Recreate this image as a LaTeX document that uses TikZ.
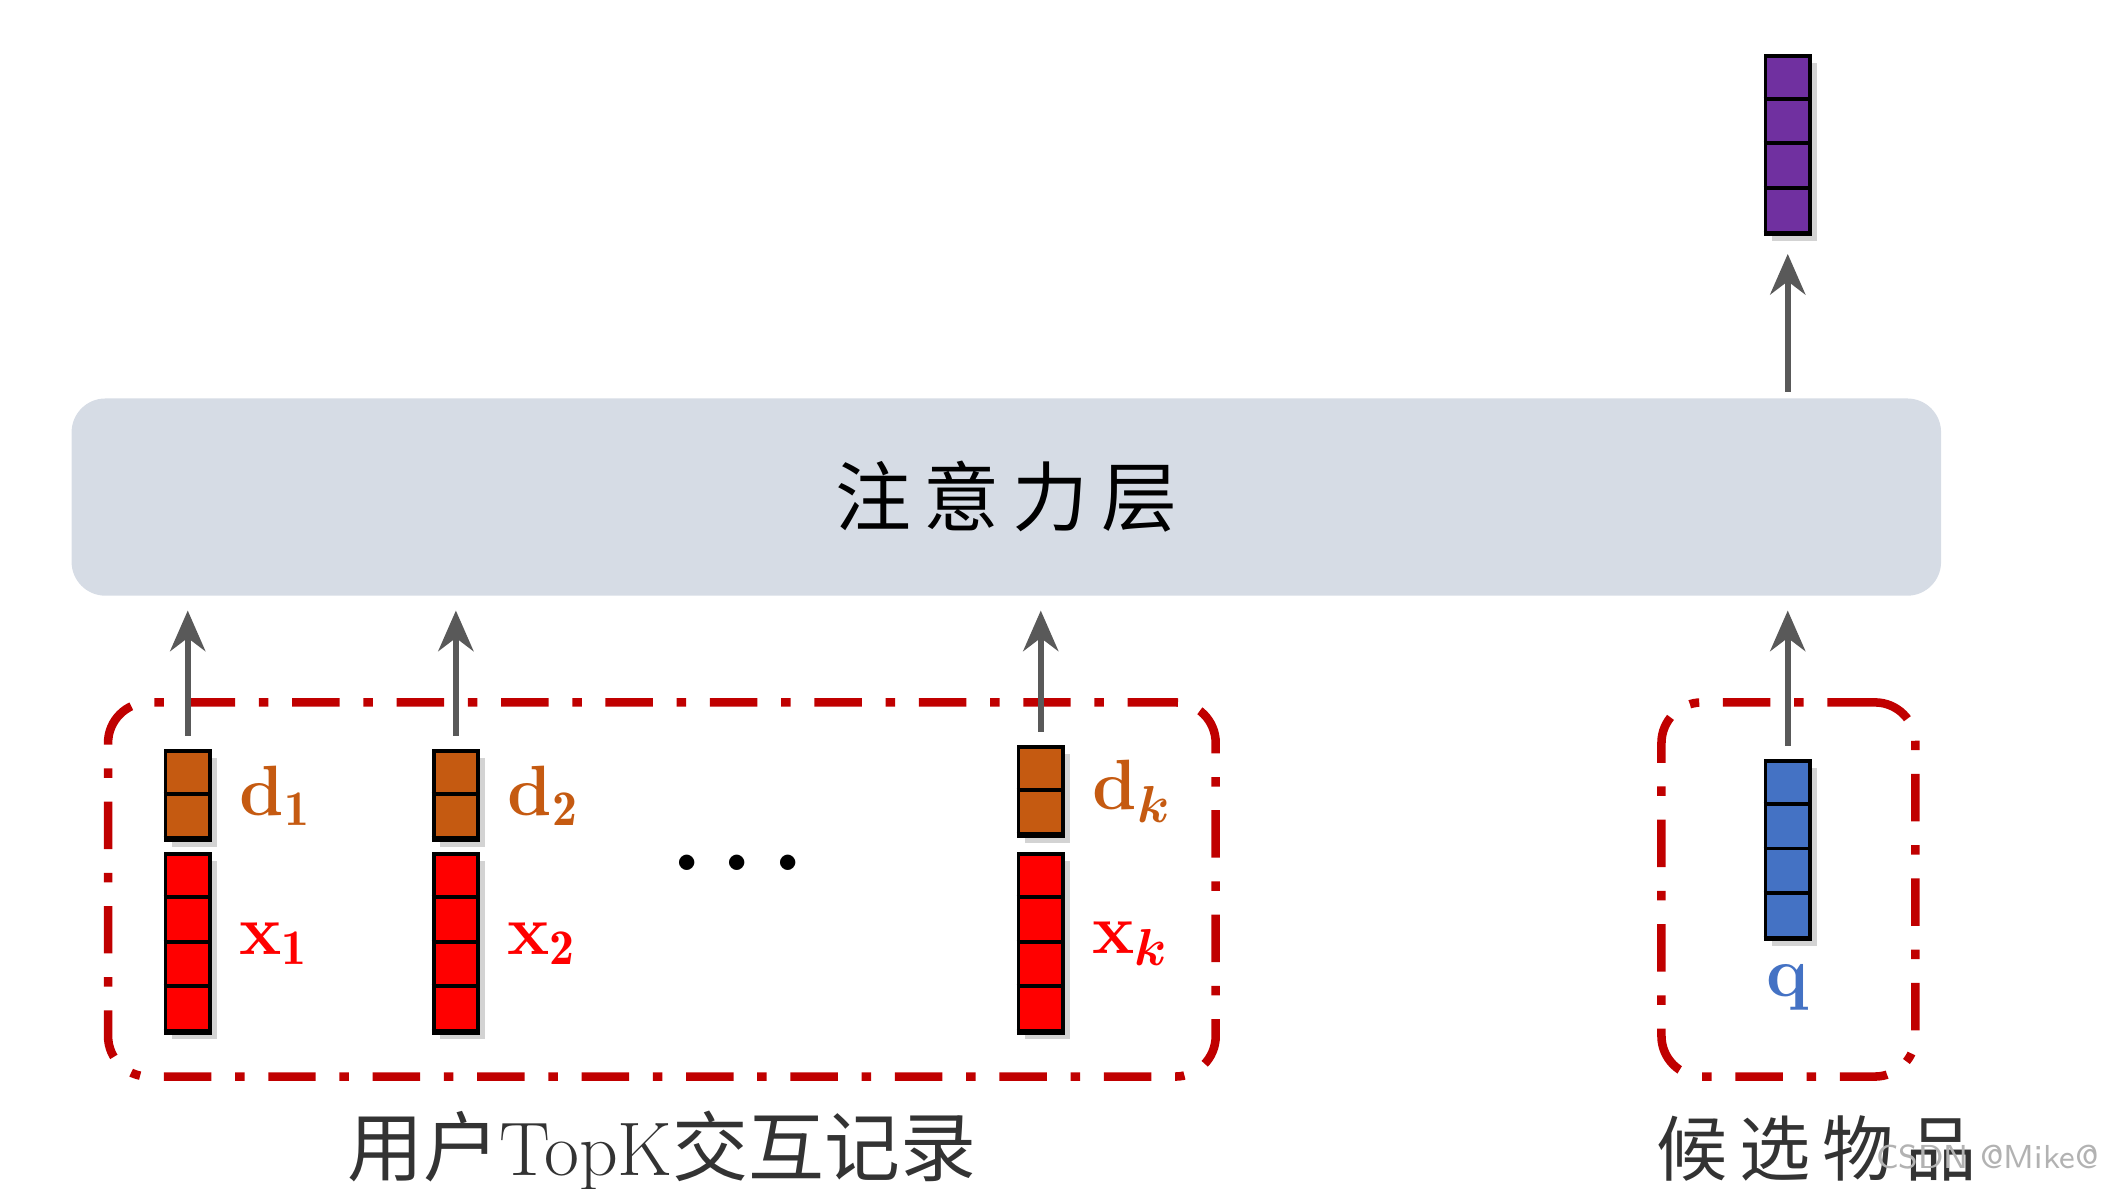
\documentclass[tikz,border=0pt]{standalone}
\usepackage{amsmath,amssymb}
\usepackage{fontspec}
\newfontfamily\cjk{Noto Sans CJK SC}
\usetikzlibrary{positioning,calc,arrows.meta,shadows}
\definecolor{attfill}{HTML}{D6DCE5}
\definecolor{dred}{HTML}{C00000}
\definecolor{dorange}{HTML}{C55A11}
\definecolor{vred}{HTML}{FF0000}
\definecolor{vblue}{HTML}{4472C4}
\definecolor{vpurple}{HTML}{7030A0}
\definecolor{arrgray}{HTML}{595959}
% one embedding vector: name, centre, cells, colour
\newcommand{\embvec}[4]{%
  \node[vecbar,fill=#4,minimum height=#3*0.33cm] (#1) at (#2) {};
  \foreach \c in {1,...,#3}
    \draw[thick] ($(#1.north west)+(0,-0.33*\c)$) -- ($(#1.north east)+(0,-0.33*\c)$);
}
\begin{document}
\begin{tikzpicture}
	[vecbar/.style={draw=black,thick,minimum width=0.33cm,inner sep=0pt,drop shadow={shadow xshift=0.05,shadow yshift=-0.05,opacity=0.35}},
	uparr/.style={-{Stealth[length=0.3cm,width=0.26cm]},line width=1.3pt,draw=arrgray},
	groupbox/.style={draw=dred,line width=1.8pt,dash pattern=on 10pt off 5pt on 2pt off 5pt,rounded corners=0.3cm},
	lbl/.style={font=\bfseries\fontsize{15}{15}\selectfont}]
	\useasboundingbox (0,0) rectangle (15.68,8.8);
	%ATTENTION LAYER
	\node[fill=attfill,rounded corners=0.25cm,minimum width=13.84cm,minimum height=1.46cm] (att) at (7.45,5.12) {\cjk\fontsize{16}{16}\selectfont 注\,意\,力\,层};
	%GROUP BOXES
	\node[groupbox,minimum width=8.2cm,minimum height=2.77cm] (hist) at (4.9,2.215) {};
	\node[groupbox,minimum width=1.88cm,minimum height=2.77cm] (cand) at (13.24,2.215) {};
	%VECTORS
	\embvec{d1}{1.39,2.91}{2}{dorange}
	\embvec{d2}{3.375,2.91}{2}{dorange}
	\embvec{dk}{7.705,2.94}{2}{dorange}
	\embvec{x1}{1.39,1.815}{4}{vred}
	\embvec{x2}{3.375,1.815}{4}{vred}
	\embvec{xk}{7.705,1.815}{4}{vred}
	\embvec{q}{13.235,2.505}{4}{vblue}
	\embvec{out}{13.235,7.725}{4}{vpurple}
	%LABELS
	\node[lbl,text=dorange,right=0.08cm of d1] (ld1) {d$_\mathbf{1}$};
	\node[lbl,text=dorange,right=0.08cm of d2] (ld2) {d$_\mathbf{2}$};
	\node[lbl,text=dorange,right=0.08cm of dk] (ldk) {d$_{\boldsymbol{k}}$};
	\node[lbl,text=vred,right=0.08cm of x1] (lx1) {x$_\mathbf{1}$};
	\node[lbl,text=vred,right=0.08cm of x2] (lx2) {x$_\mathbf{2}$};
	\node[lbl,text=vred,right=0.08cm of xk] (lxk) {x$_{\boldsymbol{k}}$};
	\node[lbl,text=vblue,below=0.05cm of q] (lq) {q};
	\node[font=\fontsize{22}{22}\selectfont] (dots) at (5.53,2.4) {$\boldsymbol{\cdots}$};
	%ARROWS
	\foreach \v in {d1,d2,dk,q}
	{
		\coordinate (\v top) at ($(\v.north)+(0,0.1)$);
		\coordinate (\v end) at (\v top |- 0,4.28);
		\draw[uparr] (\v top) -- (\v end);
	};
	\coordinate (attout) at (13.235,5.9);
	\coordinate (outin) at (13.235,6.92);
	\draw[uparr] (attout) -- (outin);
	%CAPTIONS
	\node[font=\fontsize{16}{16}\selectfont,text=black!80] (caphist) at (4.9,0.28) {\cjk 用户\rmfamily TopK\cjk 交互记录};
	\node[font=\fontsize{15}{15}\selectfont,text=black!80] (capcand) at (13.45,0.3) {\cjk 候\,选\,物\,品};
	\node[font=\sffamily\fontsize{7}{7}\selectfont,text=black!30,anchor=south east] (mark) at (15.66,0.02) {CSDN @Mike@};
\end{tikzpicture}
\end{document}
